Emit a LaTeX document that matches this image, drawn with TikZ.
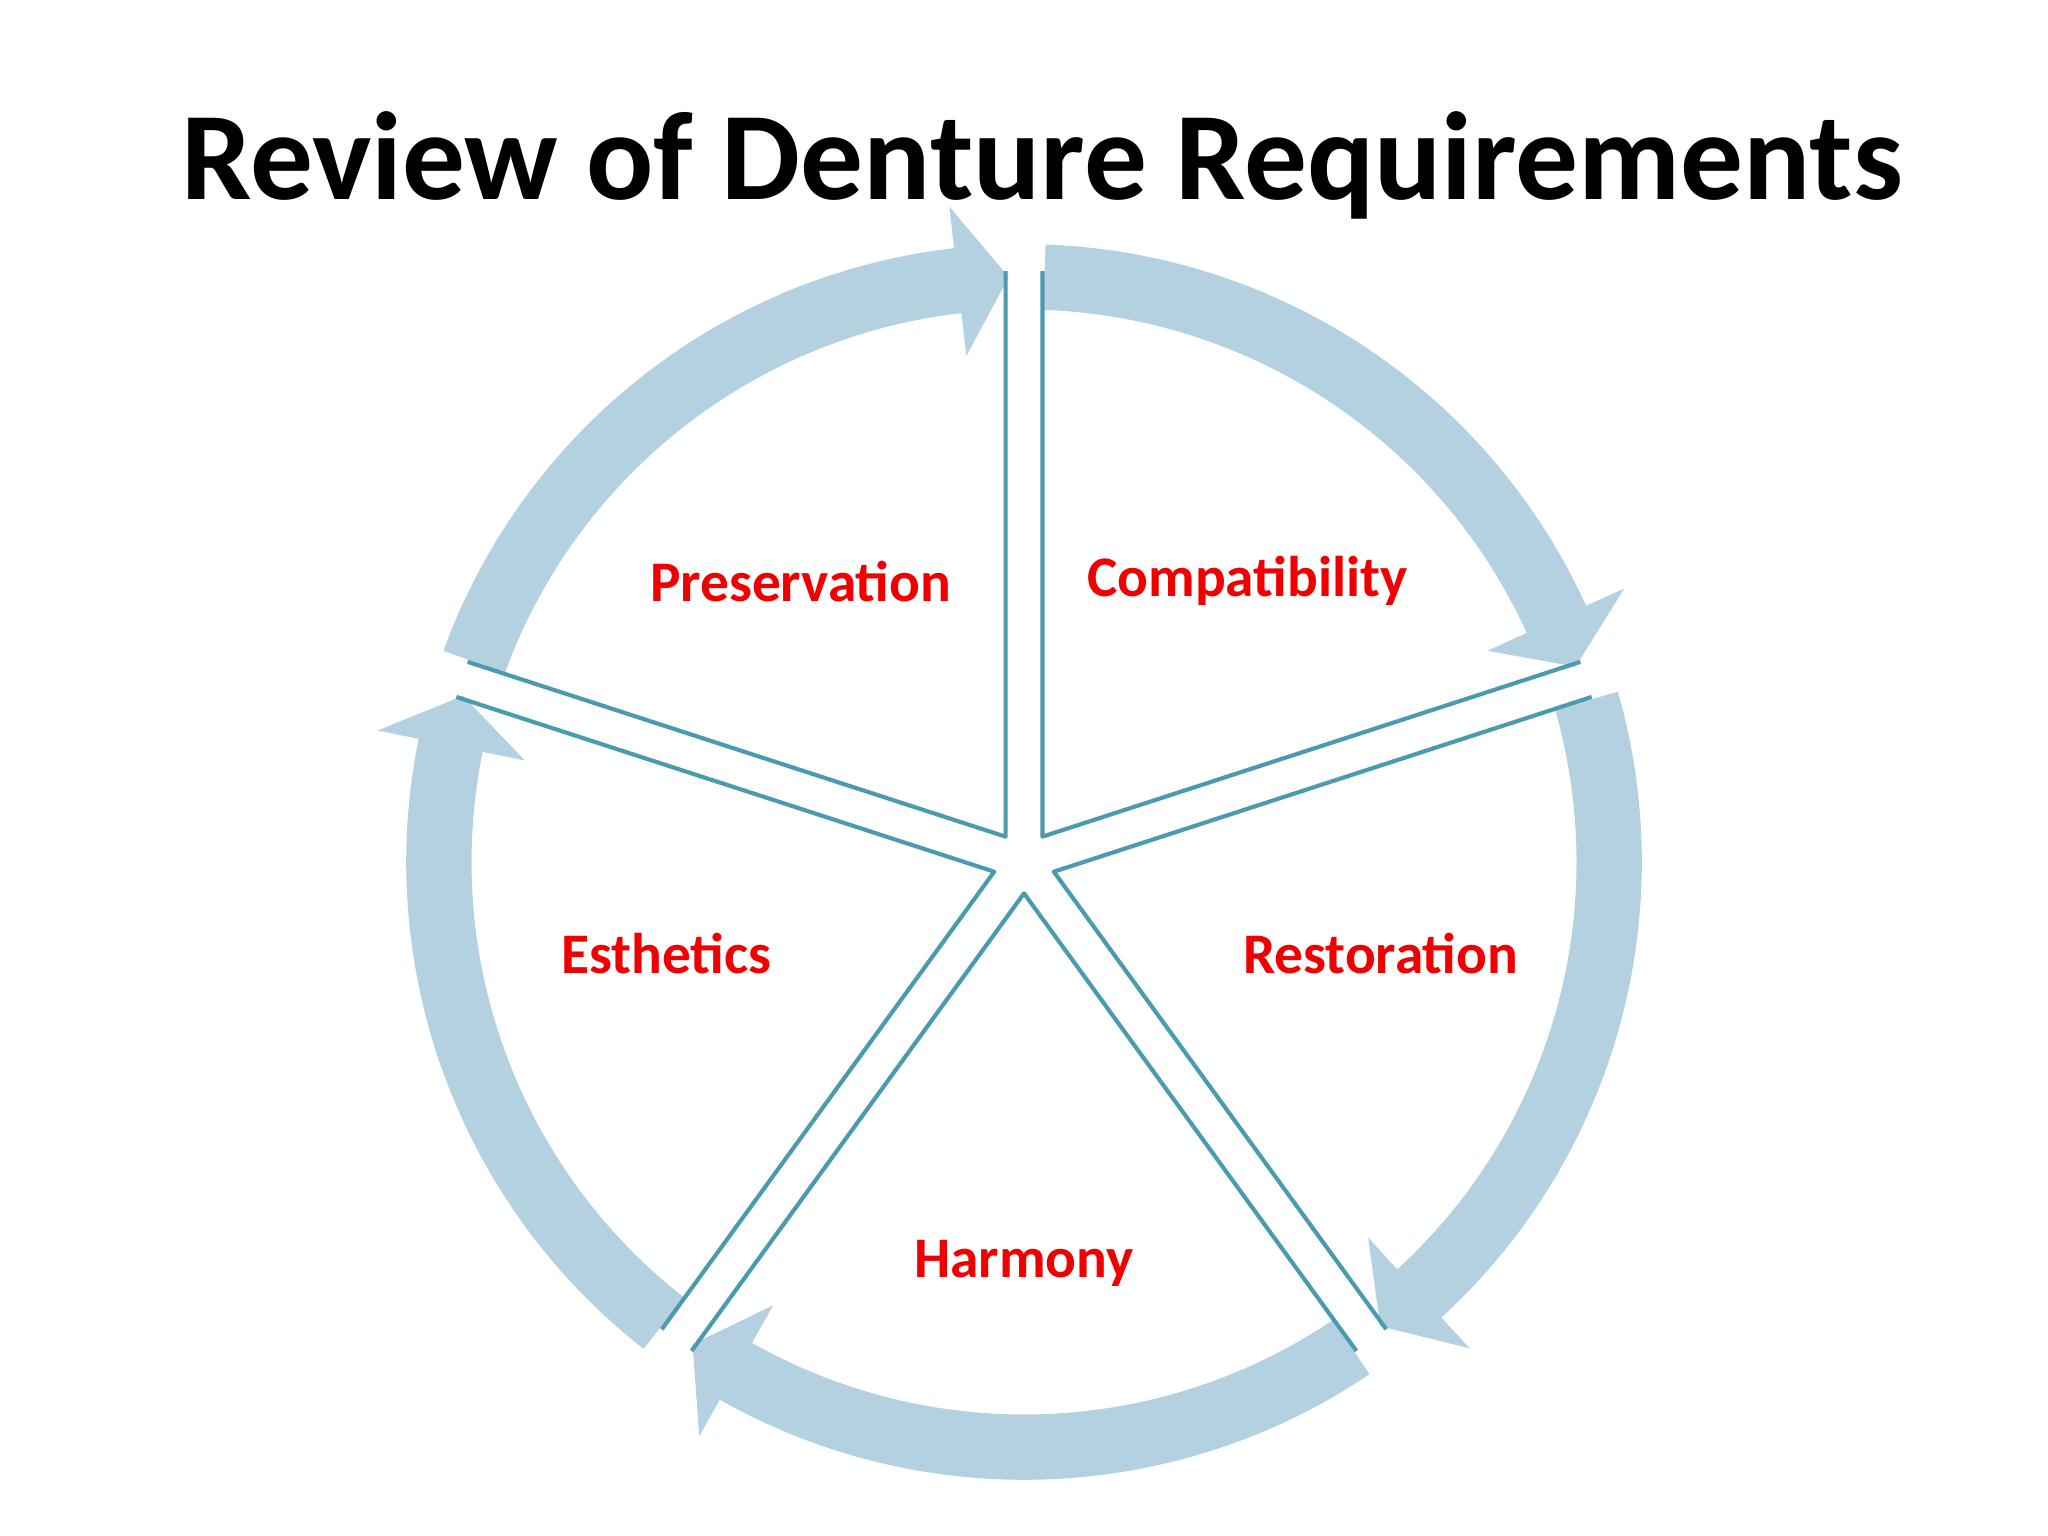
\documentclass[tikz,border=0pt]{standalone}
\usepackage{fontspec}
\setmainfont{Carlito}
\usetikzlibrary{calc}
\definecolor{arrowblue}{HTML}{B3D1E0}
\definecolor{wedgeteal}{HTML}{4A9AB0}
\definecolor{lblred}{HTML}{F00000}
\begin{document}
\begin{tikzpicture}
\useasboundingbox[fill=white] (0,0) rectangle (15.68,11.76);
\tikzset{lbl/.style={text=lblred,font=\bfseries\fontsize{12.5}{14}\selectfont},
 wedgeline/.style={draw=wedgeteal,line width=0.9pt,line join=round}}
\node (title) at (7.98,10.49) {\bfseries\fontsize{27.3}{32}\selectfont Review of Denture Requirements};
\begin{scope}[shift={(7.84,5.16)}]
\foreach \A in {90,18,-54,-126,162}{
  \pgfmathsetmacro{\s}{\A+70}
  \pgfmathsetmacro{\b}{\A+6.5}
  \pgfmathsetmacro{\t}{\A+1.5}
  \fill[arrowblue] (\s:4.73) arc[start angle=\s,end angle=\b,radius=4.73] -- (\b:5.05) -- (\t:4.48) -- (\b:3.90) -- (\b:4.23) arc[start angle=\b,end angle=\s,radius=4.23] -- cycle;
  \pgfmathsetmacro{\m}{\A+36}
  \pgfmathsetmacro{\e}{\A+72}
  \coordinate (apex\A) at (\m:0.24);
  \draw[wedgeline] ($(apex\A)+(\A:4.33)$) -- (apex\A) -- ($(apex\A)+(\e:4.33)$);
}
\end{scope}
\node[lbl] (pres) at (6.13,7.31) {Preservation};
\node[lbl] (comp) at (9.55,7.31) {Compatibility};
\node[lbl] (esth) at (5.10,4.46) {Esthetics};
\node[lbl] (rest) at (10.57,4.46) {Restoration};
\node[lbl] (harm) at (7.84,2.09) {Harmony};
\end{tikzpicture}
\end{document}
